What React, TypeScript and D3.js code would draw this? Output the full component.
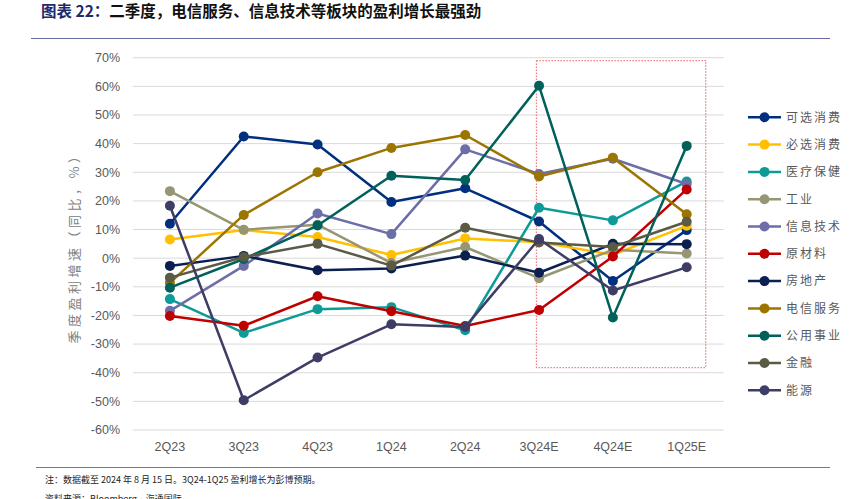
import React from "react";
import * as d3 from "d3";

const categories = ["2Q23", "3Q23", "4Q23", "1Q24", "2Q24", "3Q24E", "4Q24E", "1Q25E"];
const yTicks = [70, 60, 50, 40, 30, 20, 10, 0, -10, -20, -30, -40, -50, -60];

const seriesNames = ["可选消费", "必选消费", "医疗保健", "工业", "信息技术", "原材料", "房地产", "电信服务", "公用事业", "金融", "能源"];
const seriesColors = ["#002F80", "#FFC000", "#0D9B98", "#969675", "#6D6DA8", "#C00000", "#0B1F50", "#9C7500", "#00605A", "#5A5A45", "#3D3D66"];

const consDisc = [12, 42.5, 39.7, 19.6, 24.4, 12.8, -8.0, 9.8];
const consStaples = [6.5, 9.8, 7.4, 1.1, 6.9, 5.6, 1.2, 11.3];
const healthCare = [-14.3, -26.1, -17.8, -17.1, -25.2, 17.6, 13.2, 26.8];
const industrials = [23.4, 9.9, 11.7, -1.7, 3.9, -7.0, 2.9, 1.6];
const infoTech = [-18.4, -2.7, 15.6, 8.4, 38.0, 29.4, 34.7, 25.9];
const materials = [-20.2, -23.6, -13.3, -18.5, -23.7, -18.1, 0.6, 24.0];
const realEstate = [-2.7, 0.8, -4.2, -3.6, 0.9, -5.1, 5.0, 4.9];
const telecom = [-8.6, 15.1, 30.0, 38.5, 43.0, 28.5, 35.1, 15.3];
const utilities = [-10.3, -0.3, 11.4, 28.8, 27.3, 60.2, -20.7, 39.2];
const financials = [-6.8, 0.4, 5.0, -2.6, 10.6, 5.5, 3.9, 12.7];
const energy = [18.3, -49.6, -34.7, -23.1, -24.0, 6.7, -11.3, -3.2];

const seriesValues = [consDisc, consStaples, healthCare, industrials, infoTech, materials, realEstate, telecom, utilities, financials, energy];

const forecastBox = { from: "3Q24E", to: "1Q25E", top: 69, bottom: -38.2 };

const title1 = "图表 22：";
const title2 = "二季度，电信服务、信息技术等板块的盈利增长最强劲";
const yLabel = "季度盈利增速（同比，%）";
const note = "注：数据截至 2024 年 8 月 15 日。3Q24-1Q25 盈利增长为彭博预期。";
const source = "资料来源：Bloomberg，海通国际";

export default function App() {
  const W = 855, H = 499;
  const x = d3.scaleBand<string>().domain(categories).range([133, 723.6]);
  const cx = (c: string) => (x(c) as number) + x.bandwidth() / 2;
  const y = d3.scaleLinear().domain([-60, 70]).range([430, 57.7]);
  const line = d3.line<number>().x((_, i) => cx(categories[i])).y((d) => y(d));
  const cjk = "'Noto Sans CJK SC', 'Noto Sans', sans-serif";
  const num = "'Liberation Sans', 'Open Sans', sans-serif";

  return (
    <div style={{ position: "absolute", left: 0, top: 0 }}>
      <svg width={W} height={H} style={{ display: "block", background: "#fff" }}>
        <text x={41} y={17} fontFamily={cjk} fontSize={15.5} fontWeight="bold">
          <tspan fill="#1F2A6E">{title1}</tspan>
          <tspan fill="#111">{title2}</tspan>
        </text>
        <line x1={31} x2={830} y1={38.5} y2={38.5} stroke="#6A6AA8" strokeWidth={1.2} />

        {yTicks.map((t) => (
          <g key={t}>
            <line x1={133} x2={723.6} y1={y(t)} y2={y(t)} stroke="#D9D9D9" strokeWidth={1} />
            <text x={120} y={y(t)} dy="0.35em" textAnchor="end" fontFamily={num} fontSize={12.5} fill="#595959">{t}%</text>
          </g>
        ))}
        {categories.map((c) => (
          <text key={c} x={cx(c)} y={451} textAnchor="middle" fontFamily={num} fontSize={12.5} fill="#595959">{c}</text>
        ))}
        <text transform={`translate(79,245) rotate(-90)`} textAnchor="middle" fontFamily={cjk} fontSize={13} fill="#808080" letterSpacing={3.5}>{yLabel}</text>

        <rect
          x={cx(forecastBox.from) - 2.6}
          y={y(forecastBox.top)}
          width={cx(forecastBox.to) + 19 - (cx(forecastBox.from) - 2.6)}
          height={y(forecastBox.bottom) - y(forecastBox.top)}
          fill="none" stroke="#F08080" strokeWidth={1.3} strokeDasharray="1.5,1.5"
        />

        {seriesValues.map((vals, si) => (
          <g key={seriesNames[si]}>
            <path d={line(vals) || ""} fill="none" stroke={seriesColors[si]} strokeWidth={2.5} strokeLinejoin="round" />
            {vals.map((v, i) => (
              <circle key={i} cx={cx(categories[i])} cy={y(v)} r={5} fill={seriesColors[si]} />
            ))}
          </g>
        ))}

        {seriesNames.map((n, i) => {
          const ly = 117.3 + i * 27.3;
          return (
            <g key={n}>
              <line x1={748} x2={781} y1={ly} y2={ly} stroke={seriesColors[i]} strokeWidth={2.5} />
              <circle cx={764.5} cy={ly} r={5} fill={seriesColors[i]} />
              <text x={786} y={ly} dy="0.36em" fontFamily={cjk} fontSize={12} fill="#595959" letterSpacing={2}>{n}</text>
            </g>
          );
        })}

        <line x1={36} x2={830} y1={467.5} y2={467.5} stroke="#5B7DB8" strokeWidth={1.2} />
        <text x={45} y={483} fontFamily={cjk} fontSize={9} fill="#222">{note}</text>
        <text x={45} y={502} fontFamily={cjk} fontSize={9} fill="#222">{source}</text>
      </svg>
    </div>
  );
}
